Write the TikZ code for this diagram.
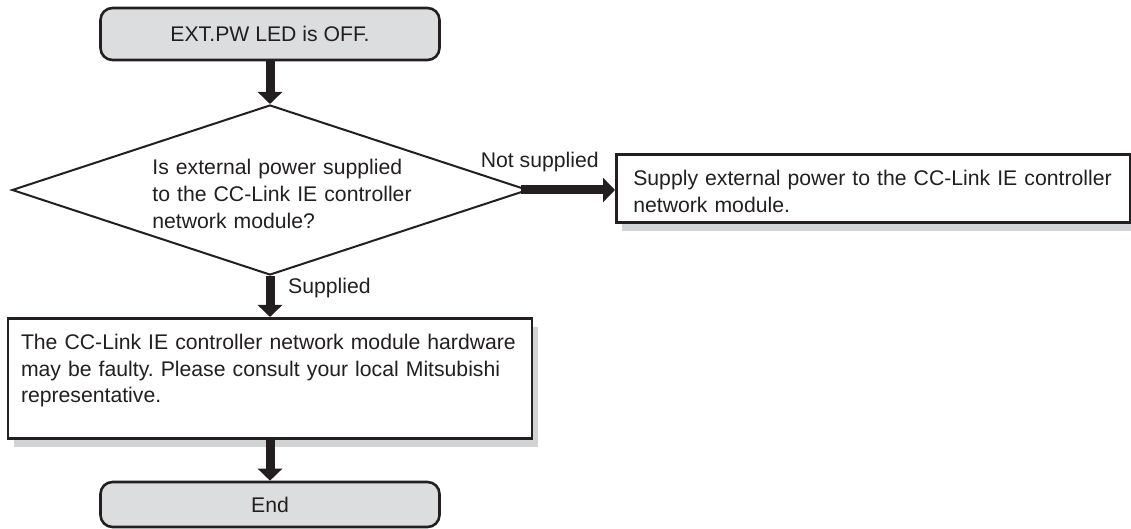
\documentclass[tikz,border=0pt]{standalone}
\usepackage{fontspec}
\setmainfont{Liberation Sans}
\usetikzlibrary{shapes,arrows.meta,positioning,shapes.geometric}
\definecolor{linegray}{HTML}{231F20}
\definecolor{boxgray}{HTML}{DCDDDE}
\definecolor{shadegray}{HTML}{D1D3D4}
\frenchspacing

\begin{document}
\begin{tikzpicture}[x=0.5pt, y=-0.5pt,
    every node/.style={font=\fontsize{10.6pt}{13.4pt}\selectfont, text=linegray},
    terminal/.style={rectangle, draw=linegray, line width=1.3pt, fill=boxgray, rounded corners=6pt, minimum width=169.5pt, text centered},
    process/.style={rectangle, draw=linegray, line width=1.3pt, fill=white, align=left, inner ysep=0pt, text height=15.5pt, preaction={fill=shadegray, transform canvas={shift={(3pt,-4.5pt)}}}},
    decision/.style={diamond, draw=linegray, line width=1pt, fill=white, inner sep=0pt, minimum width=258pt, minimum height=85pt},
    arrow/.style={-{Triangle[width=12pt,length=6pt]}, line width=4.5pt, draw=linegray}
]
\useasboundingbox (0,0) rectangle (1131,529);

% Start
\node[terminal, minimum height=26pt] (start) at (270,34) {EXT.PW LED is OFF.};

% Check
\node[decision] (check) at (270,190) {};
\node[anchor=base west, inner sep=0pt, text width=140pt, align=left] (checktext) at (152,175) {Is external power supplied\\to the CC-Link IE controller\\network module?};

% Actions
\node[process, anchor=north west, inner xsep=8.5pt, text width=240pt, text depth=18.5pt] (fixpower) at (615,153) {Supply external power to the CC-Link IE controller\\network module.};
\node[process, anchor=north, inner xsep=6.5pt, text width=249pt, text depth=44.5pt] (faulty) at (270,317) {The CC-Link IE controller network module hardware\\may be faulty. Please consult your local Mitsubishi\\representative.};

% End
\node[terminal, minimum height=22.5pt] (done) at (270,504.5) {End};

% Connections
\draw[arrow] (start) -- (check);
\draw[arrow] ([xshift=-4pt]check.east) -- node[above=3.5pt, pos=0.2] (nolabel) {Not supplied} (check.east -| fixpower.west);
\draw[arrow] (check) -- node[right=3.5pt, pos=0.3] (yeslabel) {Supplied} (faulty);
\draw[arrow] (faulty) -- (done);

\end{tikzpicture}
\end{document}
